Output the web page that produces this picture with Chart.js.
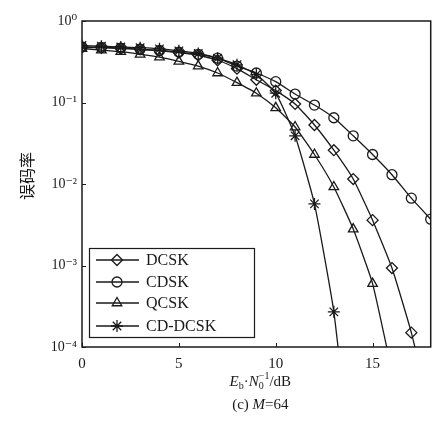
<!DOCTYPE html>
<html>
<head>
<meta charset="utf-8">
<script src="https://cdn.jsdelivr.net/npm/chart.js@4.4.1/dist/chart.umd.min.js"></script>
<style>
  html, body { margin: 0; padding: 0; background: #fff; }
  #wrap { width: 438px; height: 425px; }
</style>
</head>
<body>
<div id="wrap"><canvas id="berChart" width="438" height="425"></canvas></div>
<script>
// Eb/N0 (dB) and bit error rate
const snr = [0, 1, 2, 3, 4, 5, 6, 7, 8, 9, 10, 11, 12, 13, 14, 15, 16, 17, 18];
const dcsk = [0.48, 0.47, 0.46, 0.45, 0.43, 0.41, 0.38, 0.33, 0.26, 0.19, 0.14, 0.096, 0.053, 0.026, 0.0115, 0.0036, 0.00093, 0.00015, 0.000015];
const cdsk = [0.48, 0.475, 0.465, 0.45, 0.435, 0.415, 0.39, 0.35, 0.28, 0.23, 0.18, 0.127, 0.093, 0.065, 0.039, 0.023, 0.013, 0.0067, 0.0037];
const qcsk = [0.46, 0.44, 0.42, 0.39, 0.36, 0.32, 0.28, 0.23, 0.175, 0.13, 0.086, 0.05, 0.023, 0.0092, 0.0028, 0.0006, 0.00005, null, null];
const cdDcsk = [0.5, 0.49, 0.48, 0.47, 0.455, 0.43, 0.4, 0.35, 0.29, 0.22, 0.13, 0.039, 0.0057, 0.00027, 0.000002, null, null, null, null];

const seriesNames = ['DCSK', 'CDSK', 'QCSK', 'CD-DCSK'];
const xTicks = [0, 5, 10, 15];
const yTicks = [1, 0.1, 0.01, 0.001, 0.0001];
const supDigits = { '0': '\u2070', '1': '\u00b9', '2': '\u00b2', '3': '\u00b3', '4': '\u2074', '-': '\u207b' };

const ink = '#1a1a1a';
const serif = "'Liberation Serif', 'DejaVu Serif', serif";

function series(label, values, style, radius) {
    return {
        label: label,
        data: snr.map((x, i) => ({ x: x, y: values[i] })),
        borderColor: ink,
        borderWidth: 1.3,
        backgroundColor: 'rgba(0,0,0,0)',
        pointStyle: style,
        pointRadius: radius,
        pointBorderColor: ink,
        pointBorderWidth: 1.3,
        pointBackgroundColor: 'rgba(0,0,0,0)',
        tension: 0.15,
        spanGaps: false
    };
}

// frame, inward ticks, axis titles, caption and the legend box
const decorations = {
    id: 'decorations',
    afterDraw(chart) {
        const ctx = chart.ctx;
        const a = chart.chartArea;
        const xs = chart.scales.x, ys = chart.scales.y;
        ctx.save();
        ctx.strokeStyle = ink;
        ctx.lineWidth = 1.5;
        ctx.strokeRect(a.left, a.top, a.right - a.left, a.bottom - a.top);

        ctx.lineWidth = 1;
        ctx.beginPath();
        xTicks.forEach(v => {
            const px = Math.round(xs.getPixelForValue(v)) + 0.5;
            ctx.moveTo(px, a.bottom); ctx.lineTo(px, a.bottom - 4);
        });
        yTicks.forEach(v => {
            const py = Math.round(ys.getPixelForValue(v)) + 0.5;
            ctx.moveTo(a.left, py); ctx.lineTo(a.left + 4, py);
        });
        ctx.stroke();

        // y title
        ctx.fillStyle = ink;
        ctx.save();
        ctx.translate(27, (a.top + a.bottom) / 2 - 8);
        ctx.rotate(-Math.PI / 2);
        ctx.font = "16px 'Noto Sans CJK SC', sans-serif";
        ctx.textAlign = 'center';
        ctx.textBaseline = 'middle';
        ctx.fillText('误码率', 0, 0);
        ctx.restore();

        // x title: Eb·N0^-1/dB
        const cx = (a.left + a.right) / 2 + 4;
        const parts = [
            { t: 'E', f: 'italic 15px ' + serif, dy: 0 },
            { t: 'b', f: '10px ' + serif, dy: 3 },
            { t: '\u00b7', f: '15px ' + serif, dy: 0 },
            { t: 'N', f: 'italic 15px ' + serif, dy: 0 },
            { t: '0', f: '10px ' + serif, dy: 3, stack: '\u22121' },
            { t: '/dB', f: '15px ' + serif, dy: 0 }
        ];
        let w = 0;
        parts.forEach(p => {
            ctx.font = p.f;
            p.w = ctx.measureText(p.t).width;
            if (p.stack) p.w = Math.max(p.w, ctx.measureText(p.stack).width);
            w += p.w;
        });
        let x = cx - w / 2;
        const base1 = 386;
        ctx.textAlign = 'left';
        ctx.textBaseline = 'alphabetic';
        parts.forEach(p => {
            ctx.font = p.f;
            ctx.fillText(p.t, x, base1 + p.dy);
            if (p.stack) ctx.fillText(p.stack, x, base1 - 7);
            x += p.w;
        });

        // caption (c) M=64
        const cap = [
            { t: '(c) ', f: '15px ' + serif },
            { t: 'M', f: 'italic 15px ' + serif },
            { t: '=64', f: '15px ' + serif }
        ];
        w = 0;
        cap.forEach(p => { ctx.font = p.f; p.w = ctx.measureText(p.t).width; w += p.w; });
        x = cx - w / 2;
        cap.forEach(p => { ctx.font = p.f; ctx.fillText(p.t, x, 409); x += p.w; });

        // legend
        const box = { l: 89, t: 248, r: 254, b: 337 };
        ctx.fillStyle = '#fff';
        ctx.fillRect(box.l, box.t, box.r - box.l, box.b - box.t);
        ctx.strokeStyle = ink;
        ctx.lineWidth = 1.2;
        ctx.strokeRect(box.l + 0.5, box.t + 0.5, box.r - box.l, box.b - box.t);
        const rowY = [260, 282, 303, 326];
        chart.data.datasets.forEach((ds, i) => {
            const y = rowY[i];
            ctx.strokeStyle = ink;
            ctx.lineWidth = 1.3;
            ctx.beginPath();
            ctx.moveTo(96, y); ctx.lineTo(139, y);
            ctx.stroke();
            ctx.fillStyle = 'rgba(0,0,0,0)';
            Chart.helpers.drawPoint(ctx, {
                pointStyle: ds.pointStyle,
                radius: ds.pointRadius,
                rotation: 0,
                borderWidth: 1.3
            }, 117, y);
            ctx.fillStyle = ink;
            ctx.font = '16px ' + serif;
            ctx.textBaseline = 'middle';
            ctx.fillText(ds.label, 146, y + 1);
        });
        ctx.restore();
    }
};

const ctx = document.getElementById('berChart').getContext('2d');
const berChart = new Chart(ctx, {
    type: 'line',
    data: {
        datasets: [
            series(seriesNames[0], dcsk, 'rectRot', 5.5),
            series(seriesNames[1], cdsk, 'circle', 5),
            series(seriesNames[2], qcsk, 'triangle', 5.5),
            series(seriesNames[3], cdDcsk, 'star', 6)
        ]
    },
    options: {
        responsive: false,
        animation: false,
        layout: { padding: { left: 0, right: 6, top: 21, bottom: 0 } },
        plugins: {
            legend: { display: false },
            tooltip: { enabled: false }
        },
        scales: {
            x: {
                type: 'linear',
                min: 0,
                max: 18,
                afterBuildTicks: s => { s.ticks = xTicks.map(v => ({ value: v })); },
                afterFit: s => { s.height = 78; },
                grid: { display: false, drawTicks: false },
                border: { display: false },
                ticks: {
                    color: ink,
                    font: { family: serif, size: 15 },
                    padding: 8,
                    maxRotation: 0
                }
            },
            y: {
                type: 'logarithmic',
                min: 0.0001,
                max: 1,
                afterBuildTicks: s => { s.ticks = yTicks.map(v => ({ value: v })); },
                afterFit: s => { s.width = 82; },
                grid: { display: false, drawTicks: false },
                border: { display: false },
                ticks: {
                    color: ink,
                    font: { family: serif, size: 14 },
                    padding: 5,
                    callback: v => '10' + String(Math.round(Math.log10(v))).split('').map(c => supDigits[c]).join('')
                }
            }
        }
    },
    plugins: [decorations]
});
</script>
</body>
</html>
